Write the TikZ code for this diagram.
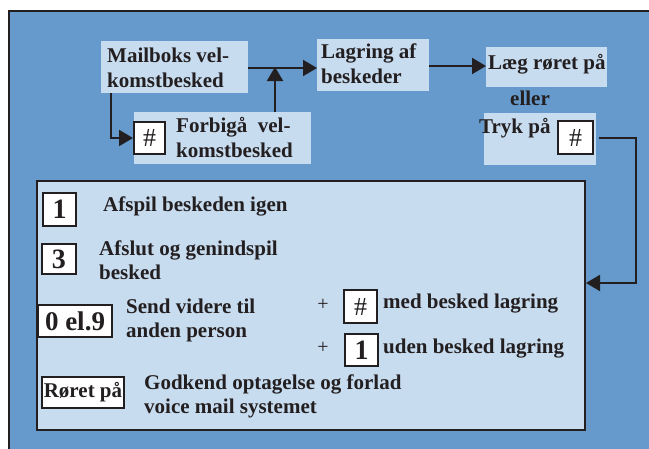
\documentclass[tikz,border=0pt]{standalone}
\usepackage{fontspec}
\setmainfont{Liberation Serif}
\usetikzlibrary{arrows.meta}
\definecolor{bgblue}{RGB}{102,153,204}
\definecolor{lightb}{RGB}{200,220,240}
\definecolor{ink}{RGB}{35,31,32}
\tikzset{
  panel/.style={fill=lightb, draw=none, inner sep=0pt, anchor=north west},
  keybox/.style={fill=white, draw=ink, line width=2pt, inner sep=0pt, anchor=north west, text=ink},
  digit/.style={keybox, font=\bfseries\fontsize{28}{30}\selectfont},
  hash/.style={keybox, font=\fontsize{26}{28}\selectfont},
  txt/.style={anchor=base west, inner sep=0pt, align=left, text=ink, font=\bfseries\fontsize{21}{25}\selectfont},
  txtb/.style={txt, font=\bfseries\fontsize{21}{23.5}\selectfont},
  plus/.style={inner sep=0pt, text=ink, font=\fontsize{20}{22}\selectfont},
  conn/.style={draw=ink, line width=2pt, -{Triangle[length=14pt,width=16pt]}}
}
\begin{document}
\begin{tikzpicture}[x=1pt,y=-1pt]
\clip (0,0) rectangle (649,448);
\fill[white] (0,0) rectangle (649,448);
\node[fill=bgblue, draw=ink, line width=2pt, anchor=north west, inner sep=0pt,
      minimum width=700pt, minimum height=500pt] (frame) at (8,10) {};

% top flow (multi-line texts are placed by the baseline of their last line)
\node[panel, minimum width=147pt, minimum height=52pt] (mbp) at (101,41) {};
\node[txt] (mbt) at (107,87) {Mailboks vel-\\komstbesked};
\node[panel, minimum width=177pt, minimum height=52pt] (fbp) at (134,112) {};
\node[hash, minimum width=31pt, minimum height=32pt] (fbk) at (133,121) {\#};
\node[txt] (fbt) at (176,157) {Forbigå\ \ vel-\\komstbesked};
\node[panel, minimum width=112pt, minimum height=52pt] (lgp) at (317,39) {};
\node[txt] (lgt) at (321,83) {Lagring af\\beskeder};
\node[panel, minimum width=121pt, minimum height=40pt] (lrp) at (486,47) {};
\node[txt] (lrt) at (488,69) {Læg røret på};
\node[txt] (eller) at (510,105) {eller};
\node[panel, minimum width=112pt, minimum height=52pt] (tkp) at (484,113) {};
\node[txt] (tkt) at (479,133) {Tryk på};
\node[hash, minimum width=35pt, minimum height=33pt] (tkk) at (557,120) {\#};

% options box
\node[fill=lightb, draw=ink, line width=2pt, anchor=north west, inner sep=0pt,
      minimum width=548pt, minimum height=249pt] (big) at (36,180) {};
\node[digit, minimum width=33pt, minimum height=33pt] (k1) at (42,192) {1};
\node[txt] (t1) at (103,211) {Afspil beskeden igen};
\node[digit, minimum width=34pt, minimum height=30pt] (k3) at (41,243) {3};
\node[txtb] (t3) at (99,279) {Afslut og genindspil\\besked};
\node[keybox, font=\bfseries\fontsize{27}{29}\selectfont, minimum width=74pt, minimum height=32pt] (k09) at (37,304) {0 el.9};
\node[txtb] (t09) at (126,337) {Send videre til\\anden person};
\node[plus] (p1) at (323,305) {+};
\node[hash, minimum width=33pt, minimum height=33pt] (kh) at (343,289) {\#};
\node[txt] (th) at (383,308) {med besked lagring};
\node[plus] (p2) at (323,348) {+};
\node[digit, minimum width=33pt, minimum height=32pt] (k1b) at (344,333) {1};
\node[txt] (t1b) at (383,353) {uden besked lagring};
\node[keybox, font=\bfseries\fontsize{21}{23}\selectfont, inner xsep=0.5pt, minimum width=82pt, minimum height=31pt] (kr) at (41,376) {Røret på};
\node[txtb] (tr) at (144,413) {Godkend optagelse og forlad\\voice mail systemet};

% connectors
\coordinate (j) at (275,68);
\coordinate (d) at (111,93);
\coordinate (m) at (0,66);
\coordinate (rc) at (636,283);
\draw[conn] (mbp.east |- j) -- (lgp.west |- j);
\draw[conn] (fbp.north -| j) -- ([yshift=1pt]j);
\draw[conn] (lgp.east |- m) -- (lrp.west |- m);
\draw[conn] (d) |- (fbk.west);
\draw[conn] ([xshift=5pt]tkk.east) -| (rc) -- (rc -| big.east);
\end{tikzpicture}
\end{document}
